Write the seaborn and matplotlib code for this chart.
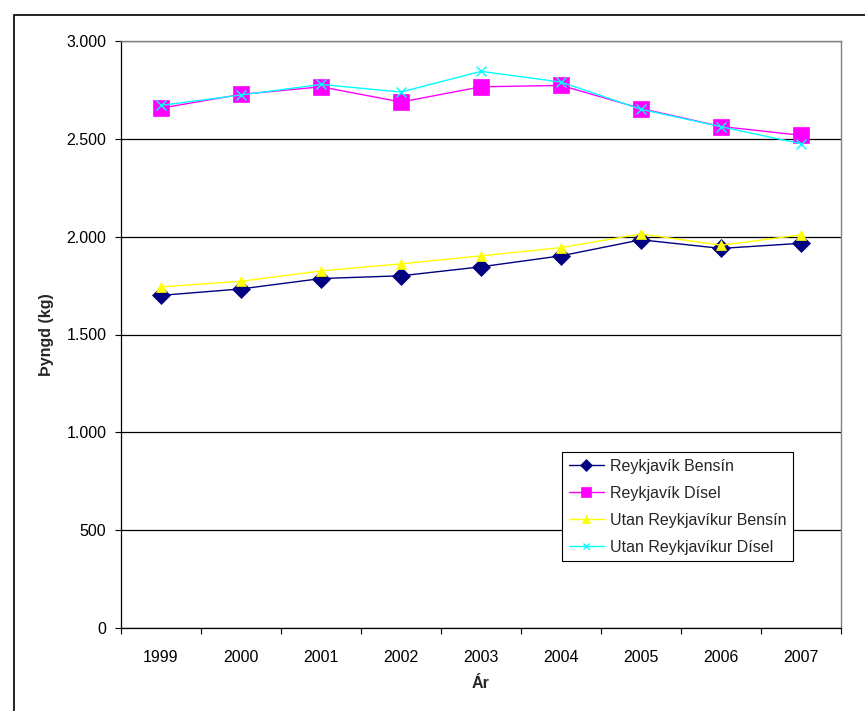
import matplotlib
matplotlib.use("Agg")
import matplotlib.pyplot as plt
from matplotlib.ticker import FuncFormatter, FixedLocator
from matplotlib.patches import Rectangle
import seaborn as sns
import pandas as pd

sns.set_theme(style="white")
plt.rcParams["font.family"] = ["Liberation Sans", "DejaVu Sans"]

years = [1999, 2000, 2001, 2002, 2003, 2004, 2005, 2006, 2007]
reykjavik_bensin = [1700, 1733, 1786, 1800, 1846, 1902, 1984, 1940, 1966]
reykjavik_disel = [2657, 2727, 2766, 2688, 2766, 2773, 2655, 2563, 2518]
utan_bensin = [1743, 1772, 1825, 1861, 1902, 1944, 2014, 1956, 2009]
utan_disel = [2671, 2724, 2778, 2739, 2845, 2790, 2651, 2562, 2475]

series_names = ["Reykjavík Bensín", "Reykjavík Dísel",
                "Utan Reykjavíkur Bensín", "Utan Reykjavíkur Dísel"]
series_values = [reykjavik_bensin, reykjavik_disel, utan_bensin, utan_disel]
colors = ["#000080", "#FF00FF", "#FFFF00", "#00FFFF"]
markers = ["D", "s", "^", "x"]
marker_sizes = [9, 11, 7.5, 7]

df = pd.DataFrame({
    "Ár": years * len(series_names),
    "Þyngd": [v for vals in series_values for v in vals],
    "Röð": [n for n in series_names for _ in years],
})

fig = plt.figure(figsize=(8.65, 7.11), dpi=100)
ax = fig.add_axes([121 / 865, 1 - 628 / 711, 720 / 865, 587 / 711])

for name, color, marker, ms in zip(series_names, colors, markers, marker_sizes):
    sub = df[df["Röð"] == name]
    sns.lineplot(data=sub, x="Ár", y="Þyngd", ax=ax, color=color,
                 marker=marker, markersize=ms, linewidth=1.0,
                 markeredgecolor=color, markeredgewidth=1.0 if marker == "x" else 0.5,
                 label=name, zorder=3)

ax.set_xlim(years[0] - 0.5, years[-1] + 0.5)
ax.set_ylim(0, 3000)

# category labels centred, tick marks on the category boundaries
ax.xaxis.set_major_locator(FixedLocator(years))
ax.xaxis.set_minor_locator(FixedLocator([y + 0.5 for y in [years[0] - 1] + years]))
ax.tick_params(axis="x", which="major", length=0, pad=15.5, labelsize=11.5, colors="black")
ax.tick_params(axis="x", which="minor", length=4, width=0.8, color="black", direction="out")
ax.tick_params(axis="y", which="major", length=4.5, width=0.8, color="black",
               direction="out", pad=6, labelsize=11.5, labelcolor="black")
ax.tick_params(bottom=True, left=True, which="both")

ax.yaxis.set_major_locator(FixedLocator(range(0, 3001, 500)))
ax.yaxis.set_major_formatter(FuncFormatter(lambda v, p: f"{v:,.0f}".replace(",", ".")))

ax.yaxis.grid(True, color="black", linewidth=0.9)
ax.xaxis.grid(False)
ax.set_axisbelow(True)

for side in ["left", "bottom"]:
    ax.spines[side].set_color("black")
    ax.spines[side].set_linewidth(0.9)
for side in ["top", "right"]:
    ax.spines[side].set_color("#808080")
    ax.spines[side].set_linewidth(1.0)

ax.set_xlabel("Ár", fontsize=11.5, fontweight="bold", labelpad=8)
ax.set_ylabel("Þyngd (kg)", fontsize=11.5, fontweight="bold", labelpad=9)

leg = ax.legend(loc="upper left", bbox_to_anchor=(441 / 720, 1 - 411 / 587),
                frameon=True, fancybox=False, framealpha=1, edgecolor="black",
                fontsize=11.5, handlelength=2.2, handletextpad=0.4,
                borderpad=0.42, labelspacing=0.75, borderaxespad=0, markerscale=0.7)
leg.get_frame().set_linewidth(0.8)

# chart area border
fig.patches.append(Rectangle((14 / 865, -0.05), 1.2, 1 - 15 / 711 + 0.05,
                             transform=fig.transFigure, fill=False,
                             edgecolor="black", linewidth=1.2))

fig.savefig("out.png", dpi=100)
